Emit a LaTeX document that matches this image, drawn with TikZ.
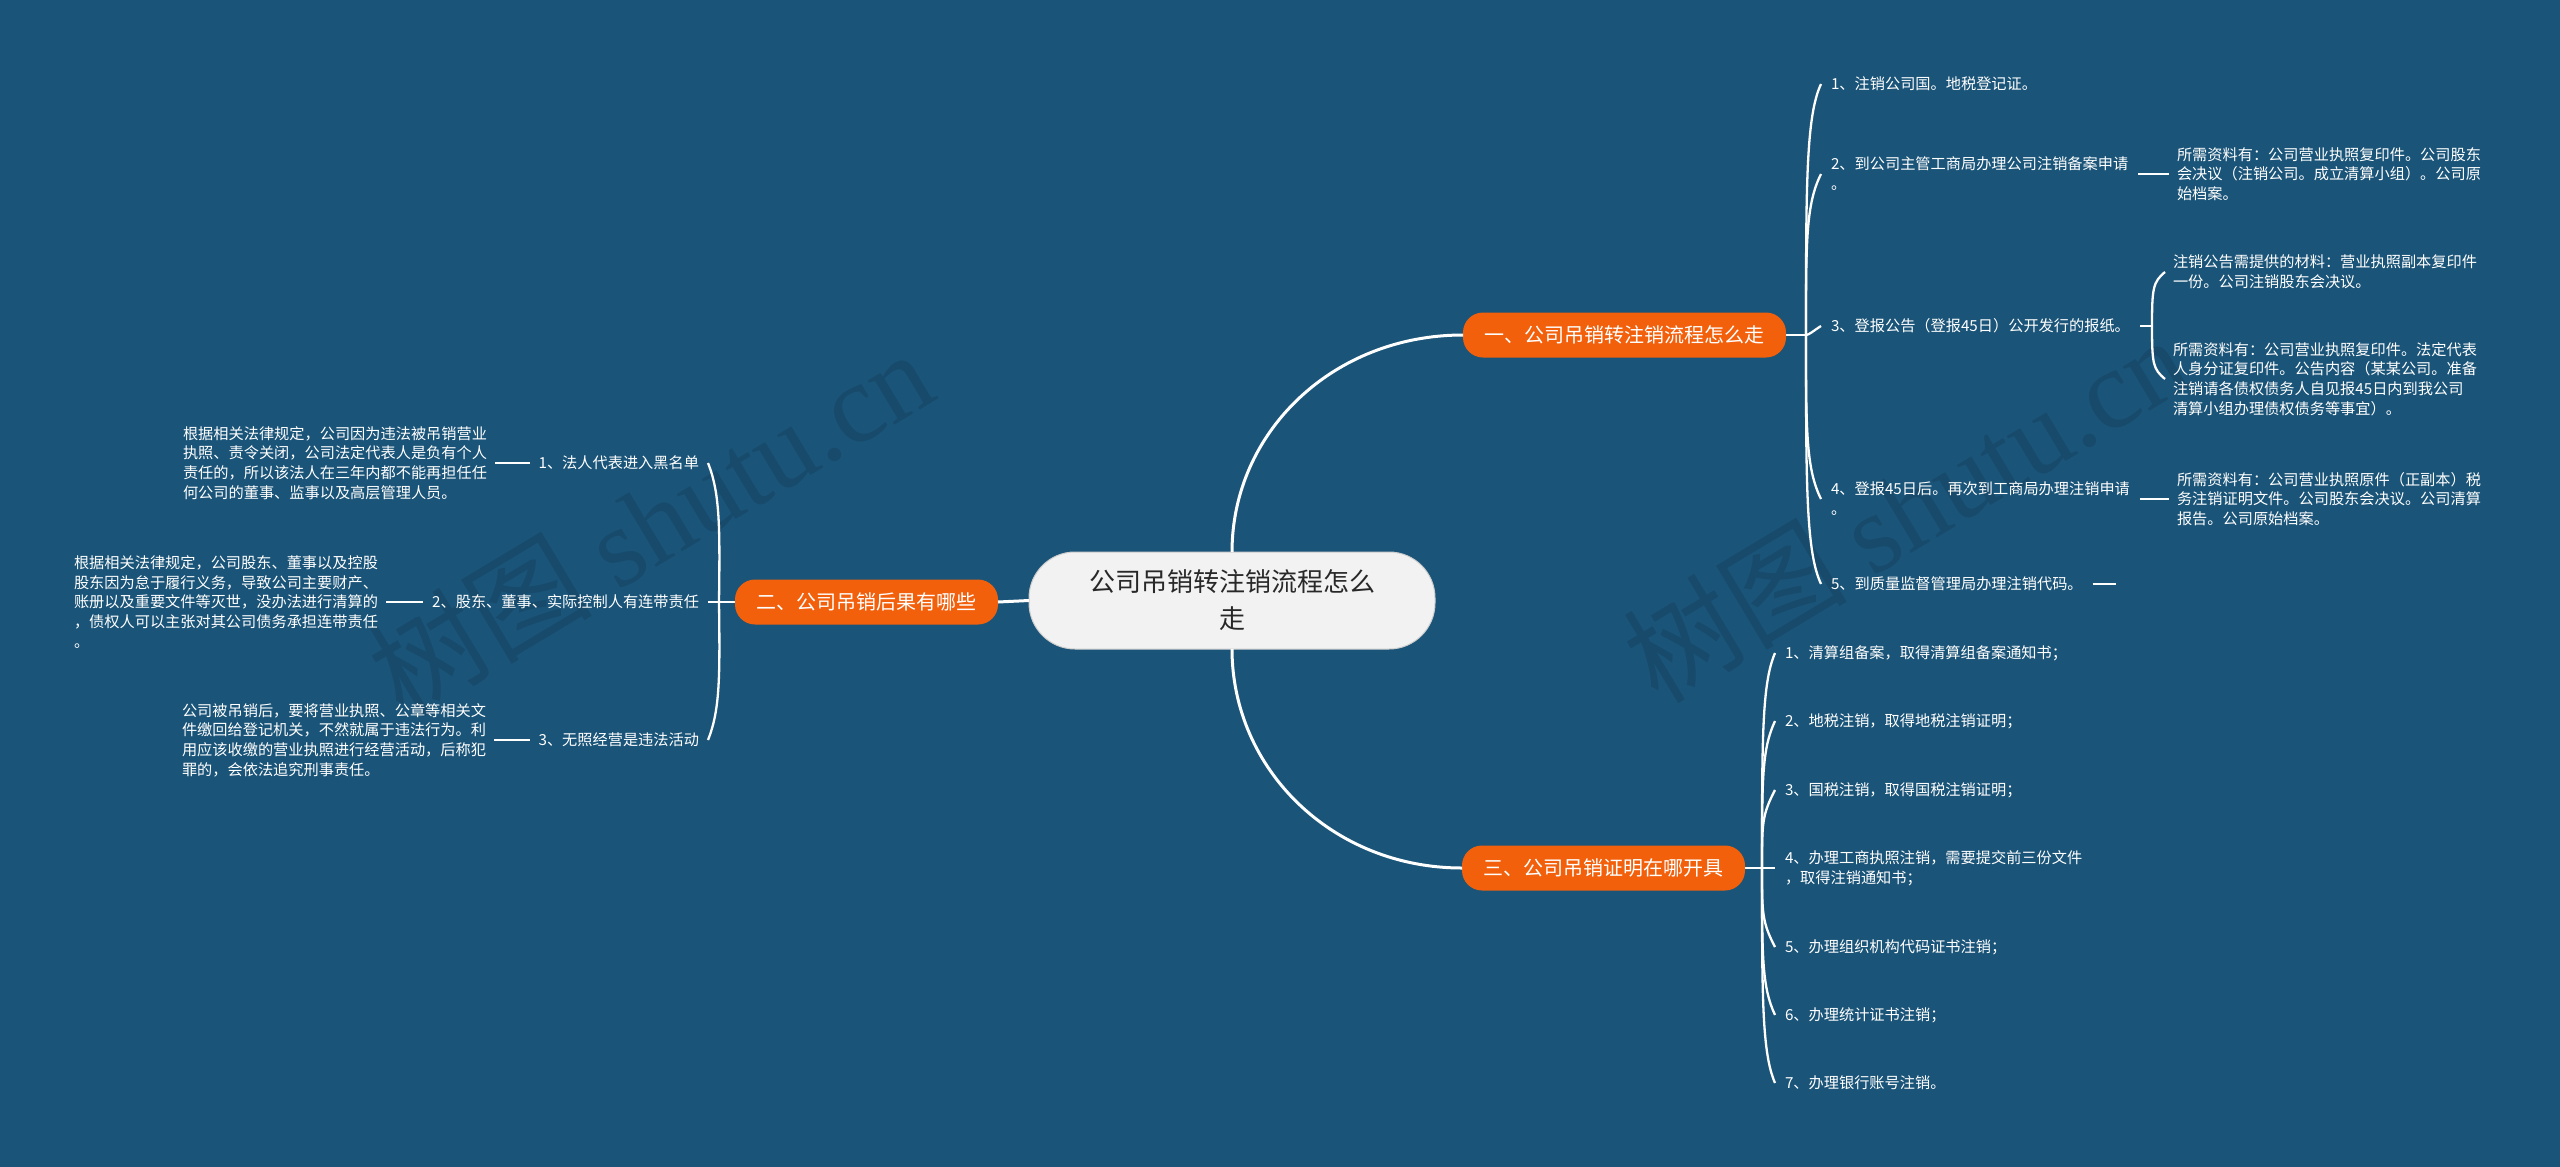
\documentclass[tikz,border=0pt]{standalone}
\usepackage{fontspec}
\setmainfont{Noto Sans CJK SC}
\newfontfamily\wmserif{Liberation Serif}
\definecolor{bg}{RGB}{26,84,120}
\definecolor{org}{RGB}{242,96,12}
\definecolor{rootfill}{RGB}{242,242,242}
\definecolor{rootborder}{RGB}{205,205,205}
\definecolor{roottext}{RGB}{40,40,40}
\definecolor{wmc}{RGB}{23,74,107}
\begin{document}
\begin{tikzpicture}[x=1pt,y=-1pt,
  every node/.style={inner sep=0pt, outer sep=0pt},
  rootbox/.style={fill=rootfill, draw=rootborder, line width=1pt, rounded corners=46pt,
    minimum width=406pt, minimum height=97pt, align=center, text=roottext,
    font=\fontsize{26}{37}\selectfont},
  topicbox/.style={fill=org, rounded corners=20pt, minimum height=45pt, inner xsep=21.5pt,
    text=white, font=\fontsize{20}{24}\selectfont},
  itembox/.style={text=white, font=\fontsize{15.2}{20}\selectfont, align=left,
    inner xsep=10pt, inner ysep=2pt},
  itemright/.style={itembox, align=right, inner xsep=9pt},
  detailbox/.style={text=white, font=\fontsize{15.2}{19.6}\selectfont, align=left,
    inner xsep=8pt, inner ysep=2pt},
  trunk/.style={draw=white, line width=3pt},
  twig/.style={draw=white, line width=2.3pt},
  wmark/.style={text=wmc, rotate=31, font=\fontsize{112}{112}\selectfont}
]
\fill[bg] (0,0) rectangle (2560,1167);
\useasboundingbox (0,0) rectangle (2560,1167);

% watermarks
\node[wmark] (wm1) at (650,522) {树图 {\wmserif shutu.cn}};
\node[wmark] (wm2) at (1905,508) {树图 {\wmserif shutu.cn}};

% root and topics
\node[rootbox] (c) at (1232,600.5) {公司吊销转注销流程怎么\\走};
\node[topicbox, anchor=west] (t1) at (1463,335) {一、公司吊销转注销流程怎么走};
\node[topicbox, anchor=east] (t2) at (998,602) {二、公司吊销后果有哪些};
\node[topicbox, anchor=west] (t3) at (1462,868) {三、公司吊销证明在哪开具};

\draw[trunk] (c.north) .. controls +(0,-120) and +(-130,0) .. (t1.west);
\draw[trunk] (c.south) .. controls +(0,120) and +(-130,0) .. (t3.west);
\draw[trunk] (c.west) -- (t2.east);

% topic 1 items
\node[itembox, anchor=west] (a1) at (1821,84) {1、注销公司国。地税登记证。};
\node[itembox, anchor=west] (a2) at (1821,174) {2、到公司主管工商局办理公司注销备案申请\\。};
\node[itembox, anchor=west] (a3) at (1821,326) {3、登报公告（登报45日）公开发行的报纸。};
\node[itembox, anchor=west] (a4) at (1821,499) {4、登报45日后。再次到工商局办理注销申请\\。};
\node[itembox, anchor=west] (a5) at (1821,584) {5、到质量监督管理局办理注销代码。};

\coordinate (jA) at (1806,335);
\draw[twig] (t1.east) -- (jA);
\draw[twig] (jA) .. controls +(0,-150) and +(-15,32) .. (a1.west);
\draw[twig] (jA) .. controls +(0,-95) and +(-15,30) .. (a2.west);
\draw[twig] (jA) .. controls +(3,0) and +(-8,5) .. (a3.west);
\draw[twig] (jA) .. controls +(0,95) and +(-15,-30) .. (a4.west);
\draw[twig] (jA) .. controls +(0,150) and +(-15,-32) .. (a5.west);

% topic 1 details
\node[detailbox, anchor=west] (e2) at (2169,174) {所需资料有：公司营业执照复印件。公司股东\\会决议（注销公司。成立清算小组）。公司原\\始档案。};
\node[detailbox, anchor=west] (e3a) at (2165,272) {注销公告需提供的材料：营业执照副本复印件\\一份。公司注销股东会决议。};
\node[detailbox, anchor=west] (e3b) at (2165,379) {所需资料有：公司营业执照复印件。法定代表\\人身分证复印件。公告内容（某某公司。准备\\注销请各债权债务人自见报45日内到我公司\\清算小组办理债权债务等事宜）。};
\node[detailbox, anchor=west] (e4) at (2169,499) {所需资料有：公司营业执照原件（正副本）税\\务注销证明文件。公司股东会决议。公司清算\\报告。公司原始档案。};

\coordinate (jD) at (2152,326);
\coordinate (s5) at (2116,584);
\draw[twig] (a2.east) -- (e2.west);
\draw[twig] (a4.east) -- (e4.west);
\draw[twig] (a5.east) -- (s5);
\draw[twig] (a3.east) -- (jD);
\draw[twig] (jD) .. controls +(0,-38) and +(-12,10) .. (e3a.west);
\draw[twig] (jD) .. controls +(0,38) and +(-12,-10) .. (e3b.west);

% topic 2 items
\node[itemright, anchor=east] (l1) at (708,463) {1、法人代表进入黑名单};
\node[itemright, anchor=east] (l2) at (708,602) {2、股东、董事、实际控制人有连带责任};
\node[itemright, anchor=east] (l3) at (708,740) {3、无照经营是违法活动};

\coordinate (jB) at (719,602);
\draw[twig] (t2.west) -- (l2.east);
\draw[twig] (jB) .. controls +(1,-75) and +(12,30) .. (l1.east);
\draw[twig] (jB) .. controls +(1,75) and +(12,-30) .. (l3.east);

% topic 2 details
\node[detailbox, anchor=west] (f1) at (175,463) {根据相关法律规定，公司因为违法被吊销营业\\执照、责令关闭，公司法定代表人是负有个人\\责任的，所以该法人在三年内都不能再担任任\\何公司的董事、监事以及高层管理人员。};
\node[detailbox, anchor=west] (f2) at (66,602) {根据相关法律规定，公司股东、董事以及控股\\股东因为怠于履行义务，导致公司主要财产、\\账册以及重要文件等灭世，没办法进行清算的\\，债权人可以主张对其公司债务承担连带责任\\。};
\node[detailbox, anchor=west] (f3) at (174,740) {公司被吊销后，要将营业执照、公章等相关文\\件缴回给登记机关，不然就属于违法行为。利\\用应该收缴的营业执照进行经营活动，后称犯\\罪的，会依法追究刑事责任。};

\draw[twig] (l1.west) -- (f1.east);
\draw[twig] (l2.west) -- (f2.east);
\draw[twig] (l3.west) -- (f3.east);

% topic 3 items
\node[itembox, anchor=west] (b1) at (1775,653) {1、清算组备案，取得清算组备案通知书；};
\node[itembox, anchor=west] (b2) at (1775,721) {2、地税注销，取得地税注销证明；};
\node[itembox, anchor=west] (b3) at (1775,790) {3、国税注销，取得国税注销证明；};
\node[itembox, anchor=west] (b4) at (1775,868) {4、办理工商执照注销，需要提交前三份文件\\，取得注销通知书；};
\node[itembox, anchor=west] (b5) at (1775,947) {5、办理组织机构代码证书注销；};
\node[itembox, anchor=west] (b6) at (1775,1015) {6、办理统计证书注销；};
\node[itembox, anchor=west] (b7) at (1775,1083) {7、办理银行账号注销。};

\coordinate (jC) at (1762,868);
\draw[twig] (t3.east) -- (b4.west);
\draw[twig] (jC) .. controls +(0,-130) and +(-13,30) .. (b1.west);
\draw[twig] (jC) .. controls +(0,-90) and +(-13,28) .. (b2.west);
\draw[twig] (jC) .. controls +(0,-45) and +(-13,25) .. (b3.west);
\draw[twig] (jC) .. controls +(0,45) and +(-13,-25) .. (b5.west);
\draw[twig] (jC) .. controls +(0,90) and +(-13,-28) .. (b6.west);
\draw[twig] (jC) .. controls +(0,130) and +(-13,-30) .. (b7.west);
\end{tikzpicture}
\end{document}
